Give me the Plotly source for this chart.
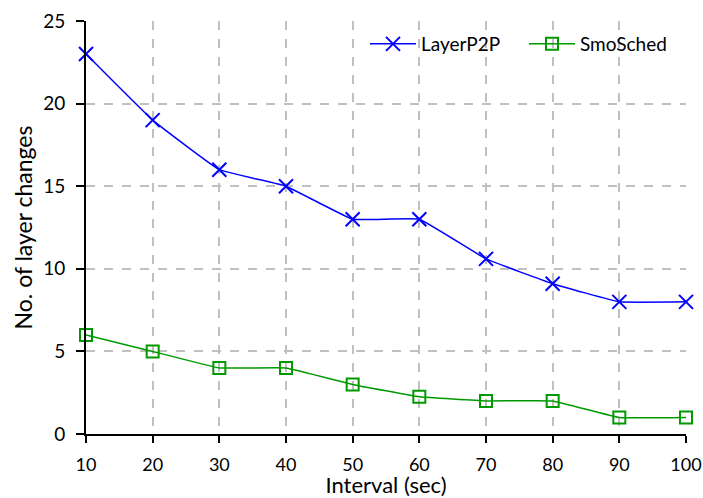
import plotly.graph_objects as go

intervals = [10, 20, 30, 40, 50, 60, 70, 80, 90, 100]
layerp2p = [23, 19, 16, 15, 13, 13, 10.6, 9.1, 8, 8]
smosched = [6, 5, 4, 4, 3, 2.25, 2, 2, 1, 1]

FONT = "Lato, 'Open Sans', sans-serif"

fig = go.Figure()
fig.add_trace(go.Scatter(
    x=intervals, y=layerp2p, name="LayerP2P", mode="lines+markers",
    line=dict(color="#0000FF", width=1.5, shape="spline", smoothing=0.25),
    marker=dict(symbol="x-thin", size=14, line=dict(color="#0000FF", width=2)),
    cliponaxis=False,
))
fig.add_trace(go.Scatter(
    x=intervals, y=smosched, name="SmoSched", mode="lines+markers",
    line=dict(color="#009900", width=1.5, shape="spline", smoothing=0.25),
    marker=dict(symbol="square-open", size=12, color="#009900", line=dict(width=2)),
    cliponaxis=False,
))

fig.update_layout(
    width=703, height=498,
    margin=dict(l=86, r=17, t=21, b=64, autoexpand=False),
    paper_bgcolor="white", plot_bgcolor="white",
    font=dict(family=FONT, size=19, color="black"),
    showlegend=True,
    legend=dict(orientation="h", xref="paper", yref="container",
                x=0.465, y=1 - 44 / 498, xanchor="left", yanchor="middle",
                bgcolor="rgba(0,0,0,0)", font=dict(size=19),
                itemwidth=46, entrywidth=98, entrywidthmode="pixels",
                tracegroupgap=0),
    xaxis=dict(
        range=[10, 100], tickvals=intervals, ticks="outside", ticklen=7,
        tickwidth=2, tickcolor="black", showline=True, linecolor="black", linewidth=2,
        showgrid=True, gridcolor="#c0c0c0", griddash="dash", gridwidth=1.5,
        zeroline=False, automargin=False, ticklabelstandoff=6,
        ticklabeloverflow="allow", tickfont=dict(size=18),
        title=dict(text="Interval (sec)", standoff=5, font=dict(size=22)),
    ),
    yaxis=dict(
        range=[0, 25], tickvals=[0, 5, 10, 15, 20, 25], ticks="outside", ticklen=8,
        tickwidth=2, tickcolor="black", showline=True, linecolor="black", linewidth=2,
        showgrid=True, gridcolor="#c0c0c0", griddash="dash", gridwidth=1.5,
        zeroline=False, automargin=False, ticklabelstandoff=7, tickfont=dict(size=19),
        title=dict(text="No. of layer changes", standoff=4, font=dict(size=23)),
    ),
)

fig.write_html(
    "out.html",
    config={"displayModeBar": False},
    post_script="document.body.style.margin='0';document.body.style.overflow='hidden';",
)
